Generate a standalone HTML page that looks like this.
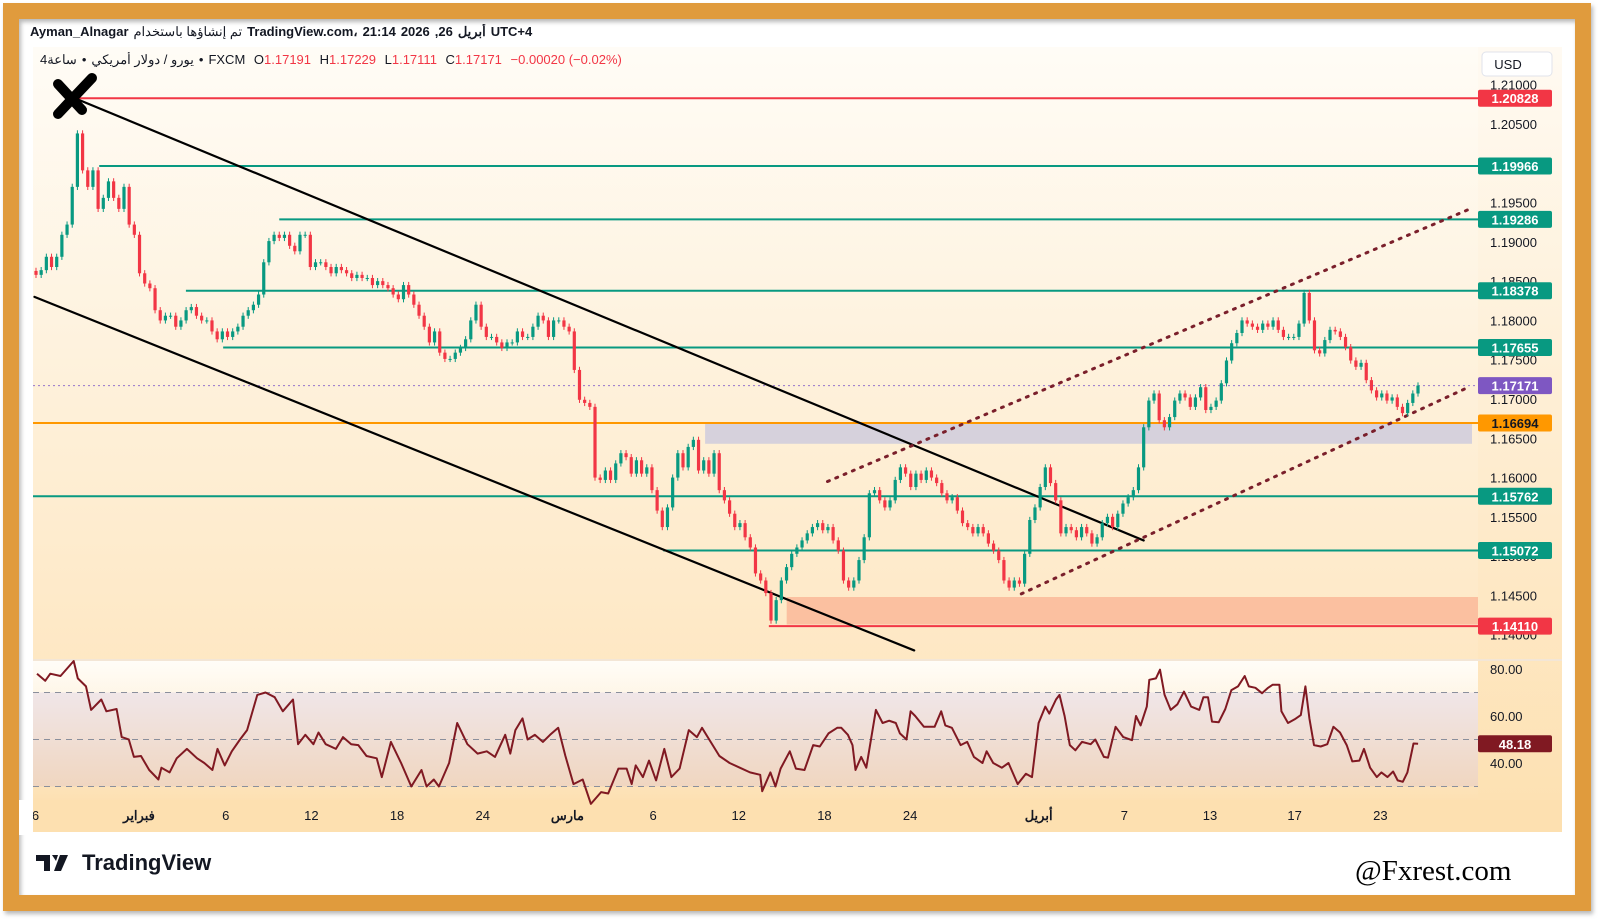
<!DOCTYPE html>
<html><head><meta charset="utf-8">
<style>
html,body{margin:0;padding:0;background:#fff;width:1600px;height:921px;overflow:hidden;font-family:"Liberation Sans","Noto Sans CJK SC",sans-serif}
svg{display:block}
.hdr span,.leg span{display:inline-block;margin-right:5px}
</style></head>
<body>
<svg id="chart" width="1600" height="921" viewBox="0 0 1600 921" xmlns="http://www.w3.org/2000/svg">
<defs>
<linearGradient id="gMain" x1="0" y1="0" x2="0" y2="1"><stop offset="0" stop-color="#fffcf6"/><stop offset="1" stop-color="#fde2b6"/></linearGradient>
<linearGradient id="gRsi" x1="0" y1="0" x2="0" y2="1"><stop offset="0" stop-color="#fffdf8"/><stop offset="1" stop-color="#fde0b2"/></linearGradient>
<linearGradient id="gBand" x1="0" y1="0" x2="0" y2="1"><stop offset="0" stop-color="#f0e6e8"/><stop offset="1" stop-color="#f0d6c0"/></linearGradient>
<linearGradient id="gAxis" x1="0" y1="0" x2="0" y2="1"><stop offset="0" stop-color="#fffaf2"/><stop offset="1" stop-color="#fde0b0"/></linearGradient>
<filter id="sh"><feDropShadow dx="2" dy="3" stdDeviation="2" flood-color="#888" flood-opacity="0.6"/></filter>
</defs>
<rect x="11" y="11" width="1572" height="892" fill="none" stroke="#e09b3d" stroke-width="16" filter="url(#sh)"/>
<rect x="33" y="47" width="1529" height="785" fill="url(#gMain)"/>
<rect x="1478" y="47" width="84" height="785" fill="url(#gAxis)"/>
<rect x="33" y="661" width="1445" height="140" fill="url(#gRsi)"/>
<rect x="33" y="800" width="1529" height="32" fill="#fde0b0"/>
<rect x="33" y="659" width="1529" height="2" fill="#f3e6d6"/>
<g id="main"></g>
<g id="rsi"></g>
<g id="axes"></g>
<g stroke="#000" stroke-width="10" stroke-linecap="round" fill="none">
<path d="M58 84 L82 110"/><path d="M92 78 L74 97 L58 114"/>
</g>
<foreignObject x="30" y="24" width="900" height="50">
<div xmlns="http://www.w3.org/1999/xhtml" class="hdr" style="font-size:13px;color:#131722;font-weight:bold;direction:ltr;white-space:nowrap"><span>Ayman_Alnagar</span><span style="font-weight:normal">تم إنشاؤها باستخدام</span><span>TradingView.com،</span><span>21:14</span><span>2026</span><span>,26</span><span>أبريل</span><span>UTC+4</span></div>
</foreignObject>
<foreignObject x="40" y="52" width="900" height="24">
<div xmlns="http://www.w3.org/1999/xhtml" class="leg" style="font-size:13px;color:#131722;direction:ltr;white-space:nowrap"><span>4ساعة</span><span>•</span><span>يورو / دولار أمريكي</span><span>•</span><span>FXCM</span><span>&#160;O<b style="color:#f23645;font-weight:normal">1.17191</b></span><span>&#160;H<b style="color:#f23645;font-weight:normal">1.17229</b></span><span>&#160;L<b style="color:#f23645;font-weight:normal">1.17111</b></span><span>&#160;C<b style="color:#f23645;font-weight:normal">1.17171</b></span><span style="color:#f23645">&#160;−0.00020 (−0.02%)</span></div>
</foreignObject>
<rect x="1482" y="52" width="70" height="24" rx="4" fill="#fff" stroke="#e0e3eb"/>
<text x="1508" y="69" font-size="13" fill="#131722" text-anchor="middle">USD</text>
<g>
<path d="M36 855 h14 v16 h-6 v-10 h-8z M52 855 h6 l-2 6 z M60 855 h8 l-7 16 h-7z" fill="#131722"/>
<text x="82" y="870" font-size="22" font-weight="bold" fill="#131722">TradingView</text>
</g>
<text x="1355" y="880" font-size="29" font-family="Liberation Serif, serif" fill="#000">@Fxrest.com</text>
</svg>
<script>
const closes=[1.1858,1.1864,1.1881,1.1868,1.1881,1.1909,1.1922,1.1970,1.2038,1.1991,1.1970,1.1991,1.1942,1.1956,1.1977,1.1956,1.1942,1.1970,1.1922,1.1909,1.1860,1.1847,1.1841,1.1813,1.1800,1.1806,1.1806,1.1792,1.1800,1.1813,1.1817,1.1806,1.1800,1.1800,1.1786,1.1776,1.1786,1.1779,1.1786,1.1792,1.1806,1.1813,1.1820,1.1833,1.1874,1.1901,1.1909,1.1905,1.1909,1.1895,1.1888,1.1909,1.1909,1.1868,1.1874,1.1874,1.1868,1.1860,1.1868,1.1864,1.1860,1.1854,1.1858,1.1854,1.1854,1.1845,1.1850,1.1845,1.1841,1.1833,1.1827,1.1845,1.1833,1.1820,1.1806,1.1792,1.1772,1.1786,1.1759,1.1751,1.1751,1.1759,1.1765,1.1776,1.1800,1.1820,1.1792,1.1779,1.1779,1.1772,1.1765,1.1772,1.1772,1.1786,1.1779,1.1779,1.1792,1.1806,1.1800,1.1779,1.1800,1.1800,1.1792,
1.1786,1.1737,1.1699,1.1695,1.1690,
1.1600,1.1597,1.1609,1.1597,1.1618,1.1631,1.1626,1.1605,1.1622,1.1605,1.1613,1.1584,1.1558,1.1537,1.1562,1.1600,1.1631,1.1613,1.1639,1.1648,1.1609,1.1622,1.1605,1.1631,1.1584,1.1571,1.1554,1.1537,1.1542,1.1524,1.1511,1.1478,1.1469,1.1453,1.1418,1.1444,1.1469,1.1486,1.1503,1.1511,1.1520,1.1529,1.1537,1.1542,1.1533,1.1537,1.1520,1.1507,1.1469,1.1460,1.1469,1.1495,1.1524,1.1580,1.1584,1.1571,1.1562,1.1571,1.1597,1.1613,1.1605,1.1588,1.1605,1.1597,1.1609,1.1600,1.1593,1.1580,1.1571,1.1575,1.1558,1.1542,1.1537,1.1529,1.1537,1.1529,1.1516,1.1507,1.1495,1.1469,1.1460,1.1469,1.1465,1.1503,1.1546,
1.1562,1.1588,1.1613,1.1593,1.1571,1.1529,1.1537,1.1533,1.1524,1.1537,1.1529,1.1516,1.1524,1.1542,1.1550,1.1537,1.1554,1.1567,1.1575,1.1584,1.1613,1.1664,1.1698,1.1707,1.1673,1.1664,1.1677,1.1698,1.1707,1.1702,1.1690,1.1702,1.1715,1.1686,1.1690,1.1698,1.1720,1.1749,1.1771,1.1784,1.1800,1.1796,1.1792,1.1788,1.1796,1.1792,1.1800,1.1788,1.1779,1.1779,1.1779,1.1796,1.1835,1.1800,1.1762,1.1758,1.1775,1.1788,1.1786,1.1779,1.1766,1.1749,1.1741,1.1746,1.1724,1.1711,1.1702,1.1707,1.1698,1.1702,1.1690,1.1682,1.1695,1.1707,1.17171];
const rsiBars=[0,1.6,2.6,4.6,7.2,8,9.6,10.6,12.6,13.6,15.6,16.6,18,19,20.4,22,23.8,24.4,26,27.4,29.4,31.4,32.8,34.4,35.4,36.8,38.2,39.8,41.2,43.2,44.8,46.6,48.2,50.2,51.2,52.6,54.2,55.2,56.6,58.6,60,61.6,63,64.6,66.6,67.6,69.4,71.4,73.4,75.4,76.4,77.8,78.8,80.8,82.4,84.4,86.4,88.2,89.8,91.8,92.8,93.8,95.2,96.2,97.6,99.2,100.6,102.2,103.6,105.2,107,108.6,110.6,112,114,115.6,116.6,117.4,118.8,120,121.4,123,124.4,126,127.8,129.4,130.4,131.8,133.8,135.8,137.8,139.8,141.8,142.2,143.8,144.8,145.8,147.6,
148.8,150.5,152.2,153.5,155.2,156.9,157.7,159,159.9,160.5,161.6,162.6,164.5,165.8,167.1,168.4,169.2,170.5,171.3,172.2,173.9,176,177.3,178.1,179.4,181.1,182.4,183.7,185.4,186.2,187.5,189.2,190.5,192.3,193.9,195.1,196.4,197.7,198.5,199.8,200.5,201.5,202.5,203.6,204.9,206.6,207.5,209.2,210,211.5,213,214.7,215.5,216.4,217.6,218.1,219.4,220.2,221.1,222.3,223.6,224.9,226.3,227.9,228.7,229.6,230.4,231.7,233,234.2,235.5,236.8,237.6,238.9,240.2,241.4,242.3,243.6,244,245.3,246.6,247.8,248.7,249.5,250.4,251.7,253,254.2,255.5,256.8,257.9,259.3,260.2,261.4,262.7,263.6,264.8,265.9,266.8,267.8,268.7,269.9,270.8];
const rsiValues=[78,75,78,77,85,76,72.6,62.6,67,62,63,51,50,42.6,43,37,33,38,36,42,46,42,40,37,46,39,45,50,54,69,70,68,62,67,48,52,48,53,48,46,51,48,47.6,43,42,34,49,40,30,37,30,33,30,40,57,48,44,45,42.6,52,44,54,59,50,52,49,52,55,43,31,33,22.6,27.6,27,37.6,37.6,31,39,34,41,32.6,46,34,37.6,54,51,55,50,43,40,38,36,35,28,36,30,37.6,45,
37.6,37,47.6,47,52.6,55,55,52,47.6,37,42.6,38,62.6,57,58,57,52.6,50,62,60,55.4,55.4,62,56,55,47.6,49,42.6,40,45,40,38,40,31,35.4,34,57,64,61,67,69,60,47.6,45.4,49,48,50,42.6,42.3,55.4,51,49.7,60,56,64,75.4,76,79.7,69,62.6,65,70.4,64,62.6,68,68,57.6,57.3,63,71,72.6,77,72.6,72,69.7,72,73.3,73.3,62,57,58.6,60.4,72.6,59,47.6,47,48,55.4,53,47.6,40.7,41,46,38,34,36,34,36.4,32.6,32,36,48.3,48.18];
const priceTicks=[1.21,1.205,1.2,1.195,1.19,1.185,1.18,1.175,1.17,1.165,1.16,1.155,1.15,1.145,1.14];
const rsiTicks=[80,60,40];
const levelPrices=[1.20828,1.19966,1.19286,1.18378,1.17655,1.16694,1.15762,1.15072,1.14110];
const levelStartBars=[6.6,12.2,47.5,29.2,36.5,0,0,122.8,143.5];
const levelColors=["#f23645","#089981","#089981","#089981","#089981","#ff9800","#089981","#089981","#f23645"];
const dateLabels=["26","فبراير","6","12","18","24","مارس","6","12","18","24","أبريل","7","13","17","23"];
const dateBars=[-1,20,37,53.8,70.6,87.4,104,120.8,137.6,154.4,171.2,196.4,213.2,230,246.6,263.4];
const lastPrice=1.17171, lastRsi=48.18;

const NS="http://www.w3.org/2000/svg";
const L=33,R=1478,N=closes.length;
const xC=i=>36+i*(1418-36)/(N-1);
const xB=b=>37+b*5.1;
const yP=p=>399-(p-1.17)*7857;
const yR=v=>763-(v-40)*2.35;
function mk(tag,attrs,parent){const e=document.createElementNS(NS,tag);for(const k in attrs)e.setAttribute(k,attrs[k]);parent.appendChild(e);return e;}
const main=document.getElementById('main'),rsiG=document.getElementById('rsi'),axes=document.getElementById('axes');

let z=mk('rect',{x:xB(131),y:yP(1.16694),width:1472-xB(131),height:yP(1.1643)-yP(1.16694),fill:'#d6d1dc'},main);


z=mk('rect',{x:xB(147),y:yP(1.1448),width:R-xB(147),height:yP(1.1413)-yP(1.1448),fill:'#fbc0a0'},main);


levelPrices.forEach((p,i)=>{
  const ln=mk('line',{x1:i==5||i==6?L:xB(levelStartBars[i]),x2:R,y1:yP(p),y2:yP(p),stroke:levelColors[i],'stroke-width':2},main);
  
  
});
let pl=mk('line',{x1:L,x2:R,y1:yP(lastPrice),y2:yP(lastPrice),stroke:'#9575cd','stroke-width':1,'stroke-dasharray':'2 3'},main);


const tl=[[[6.6,1.2085],[217,1.1520],'#000','', 'channel-upper'],[[-0.5,1.1830],[172,1.1380],'#000','','channel-lower'],[[155,1.1595],[281,1.1942],'#7a1f2b','2 7','rising-channel-upper'],[[193,1.1452],[281,1.1716],'#7a1f2b','2 7','rising-channel-lower']];
tl.forEach(t=>{
  const e=mk('line',{x1:xB(t[0][0]),y1:yP(t[0][1]),x2:xB(t[1][0]),y2:yP(t[1][1]),stroke:t[2],'stroke-width':t[3]?3:2.2,'stroke-dasharray':t[3],'stroke-linecap':'round'},main);
  
  
});
const cw=3.2;
for(let i=0;i<N;i++){
  const c=closes[i],o=i?closes[i-1]:c+0.0005;
  const up=c>=o,col=up?'#089981':'#f23645';
  const hi=Math.max(o,c)+0.0004,lo=Math.min(o,c)-0.0004;
  const g=mk('g',{},main);
  
  
  mk('line',{x1:xC(i),x2:xC(i),y1:yP(hi),y2:yP(lo),stroke:col,'stroke-width':1},g);
  const yt=yP(Math.max(o,c)),yb=yP(Math.min(o,c));
  mk('rect',{x:xC(i)-cw/2,y:yt,width:cw,height:Math.max(1,yb-yt),fill:col},g);
}
let band=mk('rect',{x:L,y:yR(70),width:R-L,height:yR(30)-yR(70),fill:'url(#gBand)'},rsiG);


[70,50,30].forEach(v=>{const d=mk('line',{x1:L,x2:R,y1:yR(v),y2:yR(v),stroke:'#8a8f9c','stroke-width':1,'stroke-dasharray':'6 5'},rsiG);
  
  });
let pts=rsiBars.map((b,i)=>xB(b).toFixed(1)+','+Math.max(661,yR(rsiValues[i])).toFixed(1)).join(' ');
let rl=mk('polyline',{points:pts,fill:'none',stroke:'#801922','stroke-width':2,'stroke-linejoin':'round'},rsiG);


priceTicks.forEach(p=>{const t=mk('text',{x:1490,y:yP(p)+5,'font-size':13,fill:'#131722'},axes);t.textContent=p.toFixed(5);
  
  });
rsiTicks.forEach(v=>{const t=mk('text',{x:1490,y:yR(v)+5,'font-size':13,fill:'#131722'},axes);t.textContent=v.toFixed(2);
  
  });
function tag(y,txt,bg,fg,name){
  const g=mk('g',{},axes);
  
  
  mk('rect',{x:1478,y:y-8.5,width:74,height:17,rx:2,fill:bg},g);
  const t=mk('text',{x:1515,y:y+5,'font-size':13,'font-weight':'bold',fill:fg,'text-anchor':'middle'},g);t.textContent=txt;
}
levelPrices.forEach((p,i)=>tag(yP(p),p.toFixed(5),levelColors[i],i==5?'#131722':'#fff','price-label-'+p.toFixed(5)));
tag(yP(lastPrice),lastPrice.toFixed(5),'#7e57c2','#fff','last-price-label');
tag(yR(lastRsi),lastRsi.toFixed(2),'#801922','#fff','rsi-value-label');
dateLabels.forEach((s,i)=>{const t=mk('text',{x:xB(dateBars[i]),y:820,'font-size':13,fill:'#131722','text-anchor':'middle','font-weight':isNaN(+s)?'bold':'normal'},axes);t.textContent=s;
  
  });
const cover=mk('rect',{x:19,y:800,width:14,height:35,fill:'#fff'},axes);


</script>
</body></html>
